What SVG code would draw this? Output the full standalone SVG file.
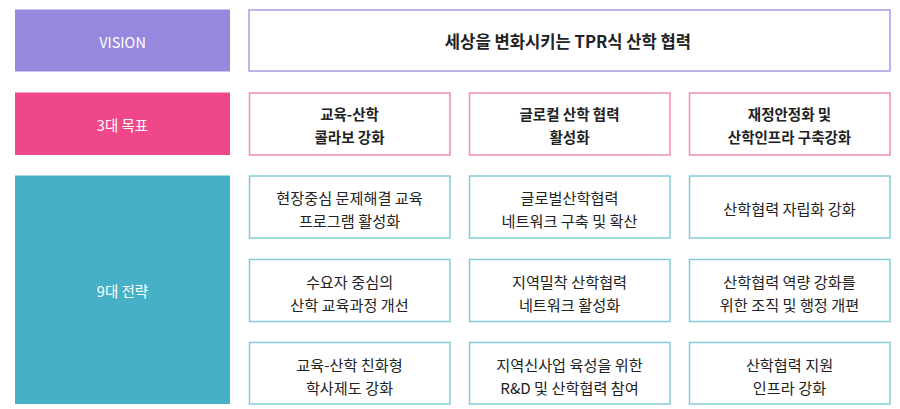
<svg xmlns="http://www.w3.org/2000/svg" width="900" height="409" viewBox="0 0 900 409">
<style>
text{font-family:"Noto Sans CJK KR","Noto Sans",sans-serif;font-size:15.2px;text-anchor:middle;dominant-baseline:central;fill:#222}
.lbl{fill:#fff;font-size:14.5px}
.b{font-weight:bold;font-size:14.5px}
.v{fill:#fff;stroke:#a79ce6;stroke-width:1.5}
.g{fill:#fff;stroke:#f38db3;stroke-width:1.5}
.s{fill:#fff;stroke:#84cbd9;stroke-width:1.5}
</style>
<rect width="900" height="409" fill="#fff"/>
<g id="vision-label"><rect x="15" y="9.5" width="215" height="62" fill="#9588de"/><text class="lbl" x="122.5" y="41">VISION</text></g>
<g id="vision"><rect class="v" x="249" y="10" width="641" height="61"/><text class="b" x="568" y="41" style="font-size:16.6px">세상을 변화시키는 TPR식 산학 협력</text></g>
<g id="goal-label"><rect x="15" y="92.5" width="215" height="62.5" fill="#f0478a"/><text class="lbl" x="122.5" y="124">3대 목표</text></g>
<g id="goal1"><rect class="g" x="249.5" y="93" width="200.5" height="62"/><text class="b" x="349.5" y="113">교육-산학</text><text class="b" x="349.5" y="136">콜라보 강화</text></g>
<g id="goal2"><rect class="g" x="469.5" y="93" width="200.5" height="62"/><text class="b" x="569.5" y="113">글로컬 산학 협력</text><text class="b" x="569.5" y="136">활성화</text></g>
<g id="goal3"><rect class="g" x="689.5" y="93" width="200.5" height="62"/><text class="b" x="789.5" y="113">재정안정화 및</text><text class="b" x="789.5" y="136">산학인프라 구축강화</text></g>
<g id="strategy-label"><rect x="15" y="175.5" width="215" height="228.5" fill="#46b1c6"/><text class="lbl" x="122.5" y="290">9대 전략</text></g>
<g id="s1"><rect class="s" x="249.5" y="176" width="200.5" height="62"/><text x="349.5" y="197">현장중심 문제해결 교육</text><text x="349.5" y="220">프로그램 활성화</text></g>
<g id="s2"><rect class="s" x="469.5" y="176" width="200.5" height="62"/><text x="569.5" y="197">글로벌산학협력</text><text x="569.5" y="220">네트워크 구축 및 확산</text></g>
<g id="s3"><rect class="s" x="689.5" y="176" width="200.5" height="62"/><text x="789.5" y="208">산학협력 자립화 강화</text></g>
<g id="s4"><rect class="s" x="249.5" y="259.5" width="200.5" height="62"/><text x="349.5" y="280.5">수요자 중심의</text><text x="349.5" y="303.5">산학 교육과정 개선</text></g>
<g id="s5"><rect class="s" x="469.5" y="259.5" width="200.5" height="62"/><text x="569.5" y="280.5">지역밀착 산학협력</text><text x="569.5" y="303.5">네트워크 활성화</text></g>
<g id="s6"><rect class="s" x="689.5" y="259.5" width="200.5" height="62"/><text x="789.5" y="280.5">산학협력 역량 강화를</text><text x="789.5" y="303.5">위한 조직 및 행정 개편</text></g>
<g id="s7"><rect class="s" x="249.5" y="342.5" width="200.5" height="61.5"/><text x="349.5" y="363.5">교육-산학 친화형</text><text x="349.5" y="386.5">학사제도 강화</text></g>
<g id="s8"><rect class="s" x="469.5" y="342.5" width="200.5" height="61.5"/><text x="569.5" y="363.5">지역신사업 육성을 위한</text><text x="569.5" y="386.5">R&amp;D 및 산학협력 참여</text></g>
<g id="s9"><rect class="s" x="689.5" y="342.5" width="200.5" height="61.5"/><text x="789.5" y="363.5">산학협력 지원</text><text x="789.5" y="386.5">인프라 강화</text></g>
<g id="connectors"></g>
</svg>
